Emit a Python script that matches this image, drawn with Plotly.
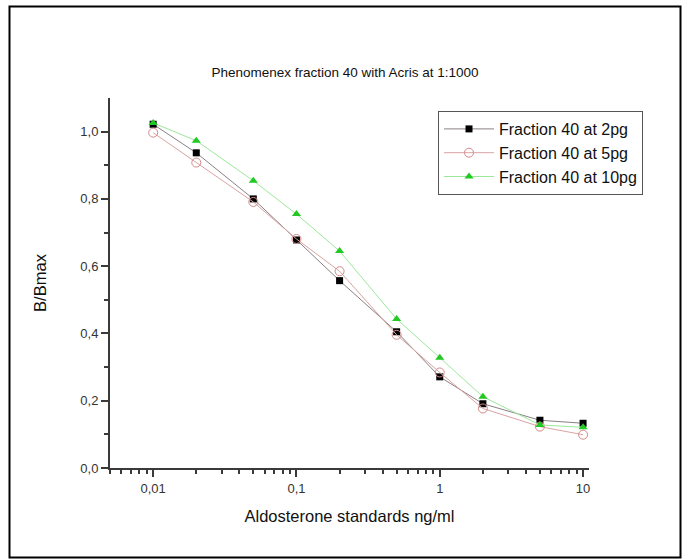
import plotly.graph_objects as go

conc = [0.01, 0.02, 0.05, 0.1, 0.2, 0.5, 1, 2, 5, 10]
frac_2pg = [1.022, 0.937, 0.800, 0.678, 0.557, 0.405, 0.271, 0.191, 0.142, 0.133]
frac_5pg = [0.997, 0.908, 0.791, 0.681, 0.585, 0.396, 0.284, 0.177, 0.123, 0.099]
frac_10pg = [1.026, 0.973, 0.854, 0.755, 0.645, 0.443, 0.328, 0.212, 0.128, 0.121]
series_names = ["Fraction 40 at 2pg", "Fraction 40 at 5pg", "Fraction 40 at 10pg"]

x_tickvals = [0.01, 0.1, 1, 10]
x_ticktext = ["0,01", "0,1", "1", "10"]
x_minor = [0.005, 0.006, 0.007, 0.008, 0.009,
           0.02, 0.03, 0.04, 0.05, 0.06, 0.07, 0.08, 0.09,
           0.2, 0.3, 0.4, 0.5, 0.6, 0.7, 0.8, 0.9,
           2, 3, 4, 5, 6, 7, 8, 9]
y_tickvals = [0.0, 0.2, 0.4, 0.6, 0.8, 1.0]
y_minor = [0.1, 0.3, 0.5, 0.7, 0.9]

FONT = "Liberation Sans, Arial, sans-serif"
AX = "#3a3a3a"

fig = go.Figure()
fig.add_trace(go.Scatter(
    x=conc, y=frac_2pg, name=series_names[0], mode="lines+markers",
    line=dict(color="#8a7f85", width=1),
    marker=dict(symbol="square", size=7, color="#000000"),
))
fig.add_trace(go.Scatter(
    x=conc, y=frac_5pg, name=series_names[1], mode="lines+markers",
    line=dict(color="#d9a3a3", width=1),
    marker=dict(symbol="circle-open", size=9, color="#d58a8a", line=dict(width=1)),
))
fig.add_trace(go.Scatter(
    x=conc, y=frac_10pg, name=series_names[2], mode="lines+markers",
    line=dict(color="#9be89b", width=1),
    marker=dict(symbol="triangle-up", size=8, color="#22c922"),
))

fig.update_layout(
    width=690, height=559,
    margin=dict(l=110, r=101, t=98, b=91),
    paper_bgcolor="white", plot_bgcolor="white",
    separators=", ",
    font=dict(family=FONT, size=13, color="#222222"),
    title=dict(text="Phenomenex fraction 40 with Acris at 1:1000",
               x=0.5, xanchor="center", y=1 - 72/559, yanchor="middle",
               font=dict(size=13.5, color="#111111")),
    showlegend=True,
    legend=dict(x=(438-110)/479, y=(468-111)/370, xanchor="left", yanchor="top",
                bgcolor="white", bordercolor="#555555", borderwidth=1,
                font=dict(size=16, color="#111111"),
                tracegroupgap=0, itemwidth=50),
    xaxis=dict(
        type="log", range=[-2.301, 1.0414],
        tickmode="array", tickvals=x_tickvals, ticktext=x_ticktext,
        ticks="outside", ticklen=7, tickwidth=2, tickcolor=AX,
        showline=True, linecolor=AX, linewidth=2, mirror=False,
        showgrid=False, zeroline=False,
        minor=dict(tickmode="array", tickvals=x_minor, ticks="outside",
                   ticklen=4, tickwidth=1.5, tickcolor=AX, showgrid=False),
        tickfont=dict(size=13, color="#333333"),
        title=dict(text="Aldosterone standards ng/ml", font=dict(size=16.5, color="#111111"),
                   standoff=16),
    ),
    yaxis=dict(
        range=[0, 1.1],
        tickmode="array", tickvals=y_tickvals, tickformat=".1f",
        ticks="outside", ticklen=7, tickwidth=2, tickcolor=AX,
        showline=True, linecolor=AX, linewidth=2, mirror=False,
        showgrid=False, zeroline=False,
        minor=dict(tickmode="array", tickvals=y_minor, ticks="outside",
                   ticklen=4, tickwidth=1.5, tickcolor=AX, showgrid=False),
        tickfont=dict(size=13, color="#333333"),
        title=dict(text="B/Bmax", font=dict(size=16.5, color="#111111"), standoff=30),
    ),
)

# outer frame around the whole figure
fig.add_shape(type="rect", xref="paper", yref="paper",
              x0=(9.5-110)/479, x1=(680.5-110)/479,
              y0=(468-557.5)/370, y1=(468-6.5)/370,
              line=dict(color="#000000", width=2), fillcolor="rgba(0,0,0,0)", layer="below")

fig.write_html("out.html")
